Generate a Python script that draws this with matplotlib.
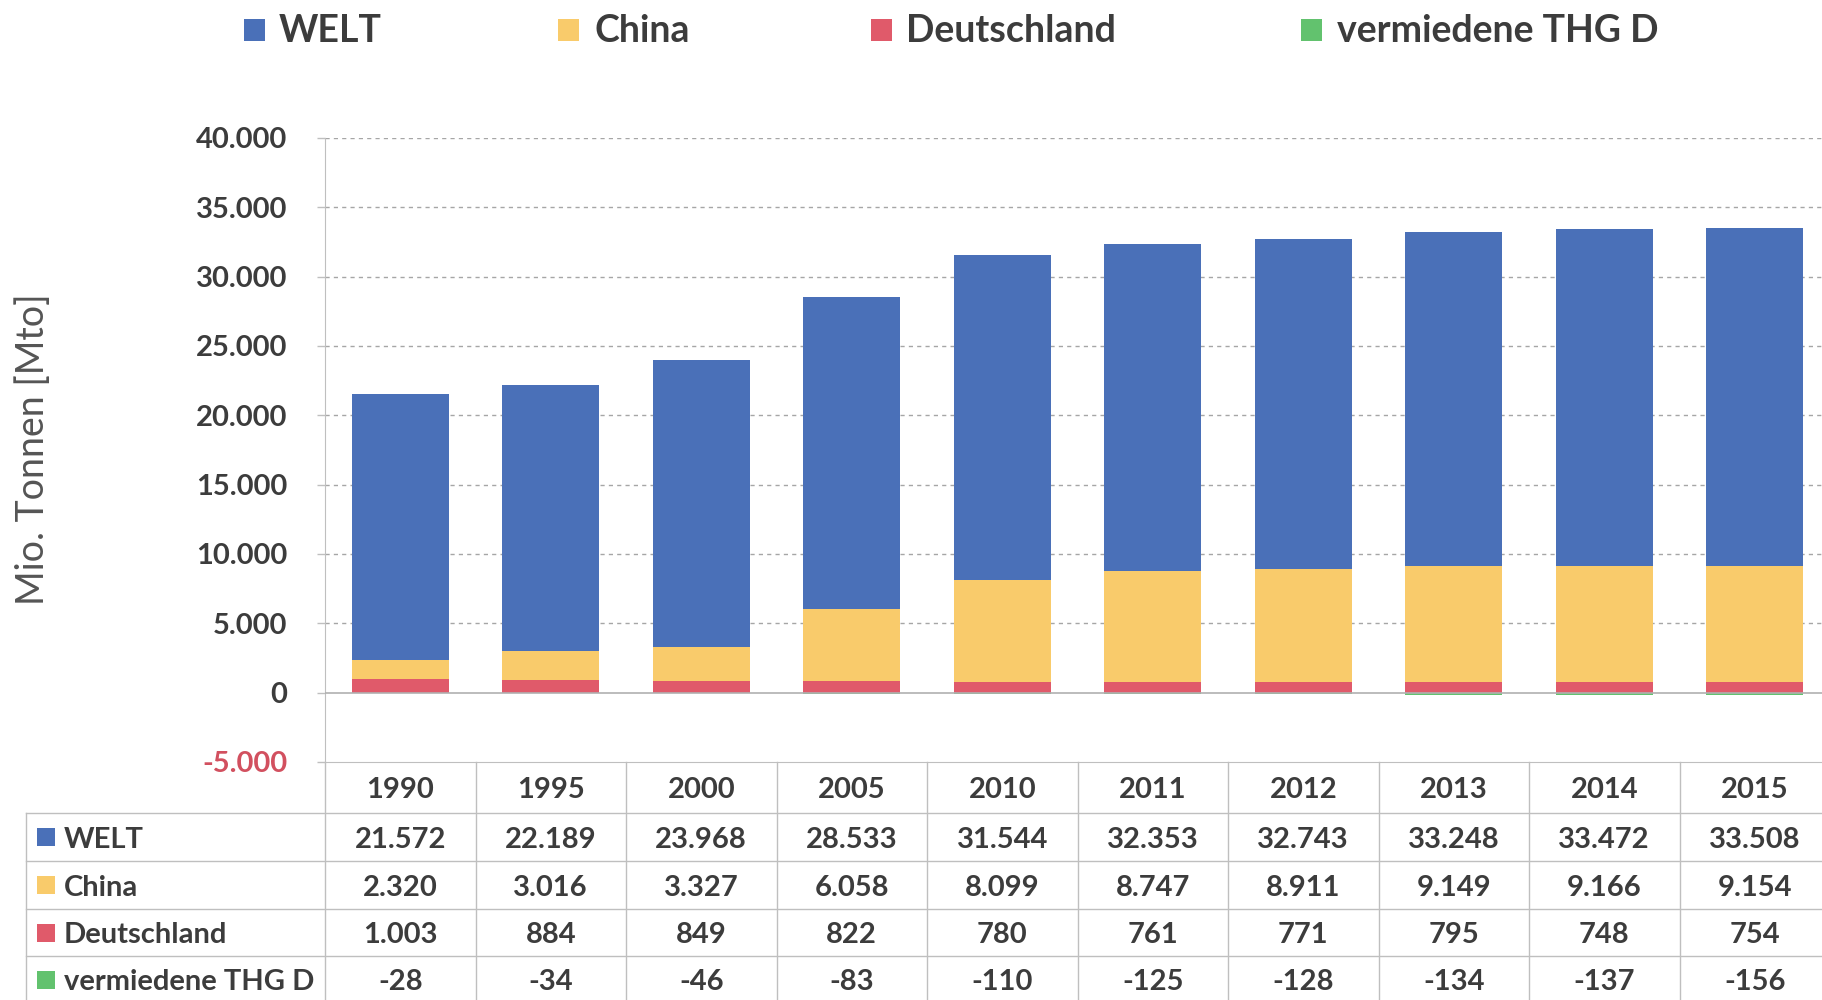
import matplotlib
matplotlib.use("Agg")
import matplotlib.pyplot as plt
from matplotlib.transforms import blended_transform_factory
from matplotlib.patches import Rectangle

# ---------------- data ----------------
years = ["1990", "1995", "2000", "2005", "2010", "2011", "2012", "2013", "2014", "2015"]
welt = [21572, 22189, 23968, 28533, 31544, 32353, 32743, 33248, 33472, 33508]
china = [2320, 3016, 3327, 6058, 8099, 8747, 8911, 9149, 9166, 9154]
deutschland = [1003, 884, 849, 822, 780, 761, 771, 795, 748, 754]
vermieden = [-28, -34, -46, -83, -110, -125, -128, -134, -137, -156]
series_names = ["WELT", "China", "Deutschland", "vermiedene THG D"]
yticks = [-5000, 0, 5000, 10000, 15000, 20000, 25000, 30000, 35000, 40000]
ylabel = "Mio. Tonnen [Mto]"

# ---------------- style ----------------
colors = ["#4a70b8", "#f9cb6b", "#e05a6a", "#62c26e"]
text_col = "#3c3c3c"
neg_col = "#d2505f"
line_col = "#bfbfbf"

plt.rcParams['font.family'] = ['Lato', 'DejaVu Sans']


def fmt(v):
    return f"{v:,}".replace(",", ".")


W, H = 1822, 1000
fig = plt.figure(figsize=(W / 100, H / 100), dpi=100)

# main plot area (pixel geometry from reference)
ax_left, ax_right = 325, 1830
ax_top, ax_bot = 138, 762
ax = fig.add_axes([ax_left / W, 1 - ax_bot / H, (ax_right - ax_left) / W, (ax_bot - ax_top) / H])

# overlay for table, legend, label (pixel coordinates, y downward)
ov = fig.add_axes([0, 0, 1, 1], zorder=5)
ov.set_xlim(0, W)
ov.set_ylim(H, 0)
ov.axis('off')
ov.patch.set_visible(False)

x = list(range(len(years)))
bw = 0.645
all_series = [welt, china, deutschland, vermieden]
for vals, c in zip(all_series, colors):
    ax.bar(x, vals, width=bw, color=c, zorder=3, linewidth=0)

ax.set_xlim(-0.5, len(years) - 0.5)
ax.set_ylim(-5000, 40000)
ax.set_yticks(yticks)
ax.set_yticklabels([fmt(v) for v in yticks])
ax.set_xticks([])
for lbl, v in zip(ax.get_yticklabels(), yticks):
    lbl.set_color(neg_col if v < 0 else text_col)
    lbl.set_fontweight('bold')
    lbl.set_fontsize(21)
ax.tick_params(axis='y', length=6, width=1, color=line_col, pad=21)

for v in yticks:
    if v > 0:
        ax.axhline(v, color="#a6a6a6", lw=1, ls=(0, (3, 3)), zorder=1)
ax.axhline(0, color="#b0b0b0", lw=1.2, zorder=4)

for s in ['top', 'right']:
    ax.spines[s].set_visible(False)
ax.spines['left'].set_color(line_col)
ax.spines['bottom'].set_color(line_col)

# ---------------- y label ----------------
ov.text(33, 449, ylabel, rotation=90, ha='center', va='center',
        fontsize=27, color="#555555")

# ---------------- legend ----------------
leg_sq_x = [244, 558, 871, 1301]
leg_tx_x = [279, 594, 906, 1337]
for name, c, sx, tx in zip(series_names, colors, leg_sq_x, leg_tx_x):
    ov.add_patch(Rectangle((sx, 19), 21, 22, color=c, lw=0))
    ov.text(tx, 42, name, ha='left', va='baseline', fontsize=27,
            fontweight='bold', color=text_col)

# ---------------- data table ----------------
tr = blended_transform_factory(ax.transData, ov.transData)
row_tops = [762, 813, 861, 909, 956, 1004]

# horizontal lines
ov.plot([26, 1840], [813, 813], color=line_col, lw=1, clip_on=False)
for yy in row_tops[2:5]:
    ov.plot([26, 1840], [yy, yy], color=line_col, lw=1, clip_on=False)
# vertical lines
ov.plot([26, 26], [813, 1000], color=line_col, lw=1)
ov.plot([ax_left, ax_left], [762, 1000], color=line_col, lw=1)
for k in range(1, len(years) + 1):
    ov.plot([k - 0.5, k - 0.5], [762, 1000], color=line_col, lw=1,
            transform=tr, clip_on=False)

fs_tab = 21
# year row
yc = (row_tops[0] + row_tops[1]) / 2
for i, yr in enumerate(years):
    ov.text(i, yc + 10.5, yr, transform=tr, ha='center', va='baseline',
            fontsize=fs_tab, fontweight='bold', color=text_col)

# series rows
for r, (name, vals, c) in enumerate(zip(series_names, all_series, colors)):
    yc = (row_tops[r + 1] + row_tops[r + 2]) / 2
    ov.add_patch(Rectangle((37, yc - 9), 18, 18, color=c, lw=0))
    ov.text(64, yc + 10.5, name, ha='left', va='baseline', fontsize=fs_tab,
            fontweight='bold', color=text_col)
    for i, v in enumerate(vals):
        ov.text(i, yc + 10.5, fmt(v), transform=tr, ha='center', va='baseline',
                fontsize=fs_tab, fontweight='bold', color=text_col)

fig.savefig("out.png", dpi=100, facecolor="white")
